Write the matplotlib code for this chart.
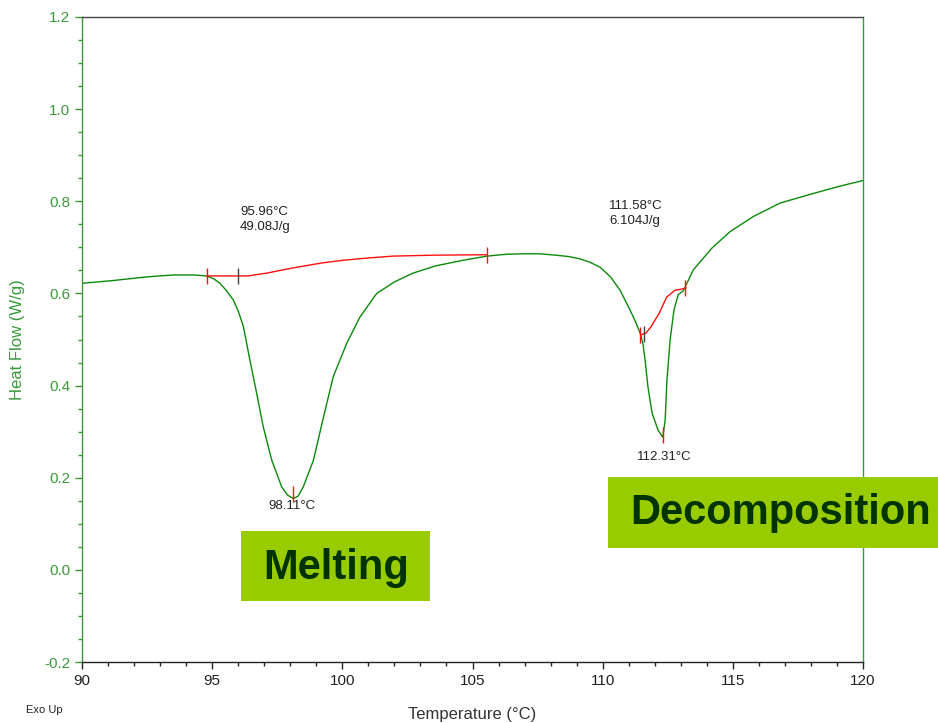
import matplotlib.pyplot as plt
from matplotlib.patches import Rectangle
from matplotlib.ticker import MultipleLocator, FormatStrFormatter

plt.rcParams['font.family'] = ['Liberation Sans', 'DejaVu Sans']

# DSC curve
temp = [90.0, 91.2, 92.5, 93.5, 94.3, 94.79, 95.05, 95.30, 95.55, 95.81, 96.0,
        96.20, 96.45, 96.71, 96.96, 97.29, 97.67, 97.90, 98.12, 98.30, 98.50,
        98.89, 99.27, 99.65, 100.17, 100.68, 101.32, 102.0, 102.71, 103.6,
        104.64, 105.56, 106.3, 107.0, 107.6, 108.2, 108.7, 109.13, 109.5,
        109.90, 110.3, 110.67, 111.05, 111.25, 111.44, 111.55, 111.63, 111.74,
        111.90, 112.13, 112.31, 112.40, 112.47, 112.59, 112.74, 112.90, 113.10,
        113.48, 114.19, 114.89, 115.79, 116.81, 118.09, 119.12, 120.0]
heat_flow = [0.622, 0.628, 0.636, 0.640, 0.640, 0.638, 0.632, 0.622, 0.606, 0.586, 0.562,
             0.528, 0.455, 0.383, 0.311, 0.238, 0.180, 0.162, 0.155, 0.160, 0.180,
             0.238, 0.330, 0.419, 0.492, 0.549, 0.600, 0.625, 0.644, 0.660,
             0.672, 0.681, 0.685, 0.686, 0.686, 0.683, 0.680, 0.675, 0.668,
             0.657, 0.636, 0.607, 0.564, 0.540, 0.514, 0.490, 0.455, 0.397,
             0.340, 0.303, 0.288, 0.325, 0.412, 0.499, 0.564, 0.597, 0.606,
             0.651, 0.698, 0.734, 0.767, 0.796, 0.817, 0.833, 0.845]

# integration baselines
melt_base_t = [94.79, 96.0, 96.38, 97.09, 97.8, 98.37, 99.2, 100.03, 101.0, 101.95, 103.5, 105.56]
melt_base_h = [0.638, 0.638, 0.638, 0.644, 0.652, 0.658, 0.666, 0.672, 0.677, 0.681, 0.683, 0.684]
dec_base_t = [111.47, 111.66, 111.85, 112.17, 112.46, 112.78, 113.09, 113.2]
dec_base_h = [0.510, 0.514, 0.527, 0.557, 0.592, 0.607, 0.610, 0.612]

# limit / onset markers
red_marks_t = [94.79, 105.56, 111.45, 113.18, 98.11, 112.31]
red_marks_h = [0.638, 0.684, 0.510, 0.611, 0.165, 0.292]
onset_t = [96.0, 111.58]
onset_h = [0.638, 0.512]

# annotations
peak_labels = [(96.07, 0.760, '95.96°C\n49.08J/g'),
               (110.24, 0.774, '111.58°C\n6.104J/g'),
               (97.14, 0.139, '98.11°C'),
               (111.32, 0.245, '112.31°C')]

green = '#3a9a3a'
curve_green = '#0a8a0a'

fig = plt.figure(figsize=(9.38, 7.23), dpi=100)
ax = fig.add_axes([82 / 938, 61 / 723, 781 / 938, 645 / 723])

ax.plot(temp, heat_flow, color=curve_green, lw=1.0)
ax.plot(melt_base_t, melt_base_h, color='#ff1010', lw=1.0)
ax.plot(dec_base_t, dec_base_h, color='#ff1010', lw=1.0)
ax.plot(red_marks_t, red_marks_h, ls='none', marker='|', ms=12, mew=1.0, color='#ff1010')
ax.plot(onset_t, onset_h, ls='none', marker='|', ms=12, mew=1.0, color='#404040')

for x, y, s in peak_labels:
    ax.text(x, y, s, fontsize=9.5, color='#222222', ha='left', va='center', linespacing=1.3)

ax.set_xlim(90, 120)
ax.set_ylim(-0.2, 1.2)
ax.xaxis.set_major_locator(MultipleLocator(5))
ax.xaxis.set_minor_locator(MultipleLocator(1))
ax.yaxis.set_major_locator(MultipleLocator(0.2))
ax.yaxis.set_minor_locator(MultipleLocator(0.05))
ax.yaxis.set_major_formatter(FormatStrFormatter('%.1f'))

ax.tick_params(axis='x', which='major', direction='out', length=5, width=1.0, colors='#222222', labelsize=11)
ax.tick_params(axis='x', which='minor', direction='out', length=3, width=1.0, color='#222222')
ax.tick_params(axis='y', which='major', direction='out', length=5, width=1.0, colors=green, labelsize=11)
ax.tick_params(axis='y', which='minor', direction='out', length=3, width=1.0, color=green)

ax.spines['left'].set_color(green)
ax.spines['right'].set_color(green)
ax.spines['top'].set_color('#444444')
ax.spines['bottom'].set_color('#222222')
for s in ax.spines.values():
    s.set_linewidth(1.0)

ax.set_xlabel('Temperature (°C)', fontsize=12, color='#333333', labelpad=14)
ax.set_ylabel('Heat Flow (W/g)', fontsize=12, color=green, labelpad=14)
fig.text(26 / 938, 13 / 723, 'Exo Up', fontsize=8, color='#222222', ha='left', va='center')

# highlighted labels
fig.add_artist(Rectangle((241 / 938, 122 / 723), 189 / 938, 70 / 723,
                         transform=fig.transFigure, facecolor='#99cc00', edgecolor='none', zorder=5))
fig.text(336 / 938, 155 / 723, 'Melting', fontsize=30, fontweight='bold', color='#003300',
         ha='center', va='center', zorder=6)
fig.add_artist(Rectangle((608 / 938, 175 / 723), 340 / 938, 71 / 723,
                         transform=fig.transFigure, facecolor='#99cc00', edgecolor='none', zorder=5))
fig.text(781 / 938, 210 / 723, 'Decomposition', fontsize=30, fontweight='bold', color='#003300',
         ha='center', va='center', zorder=6)

fig.savefig('out.png', dpi=100)
